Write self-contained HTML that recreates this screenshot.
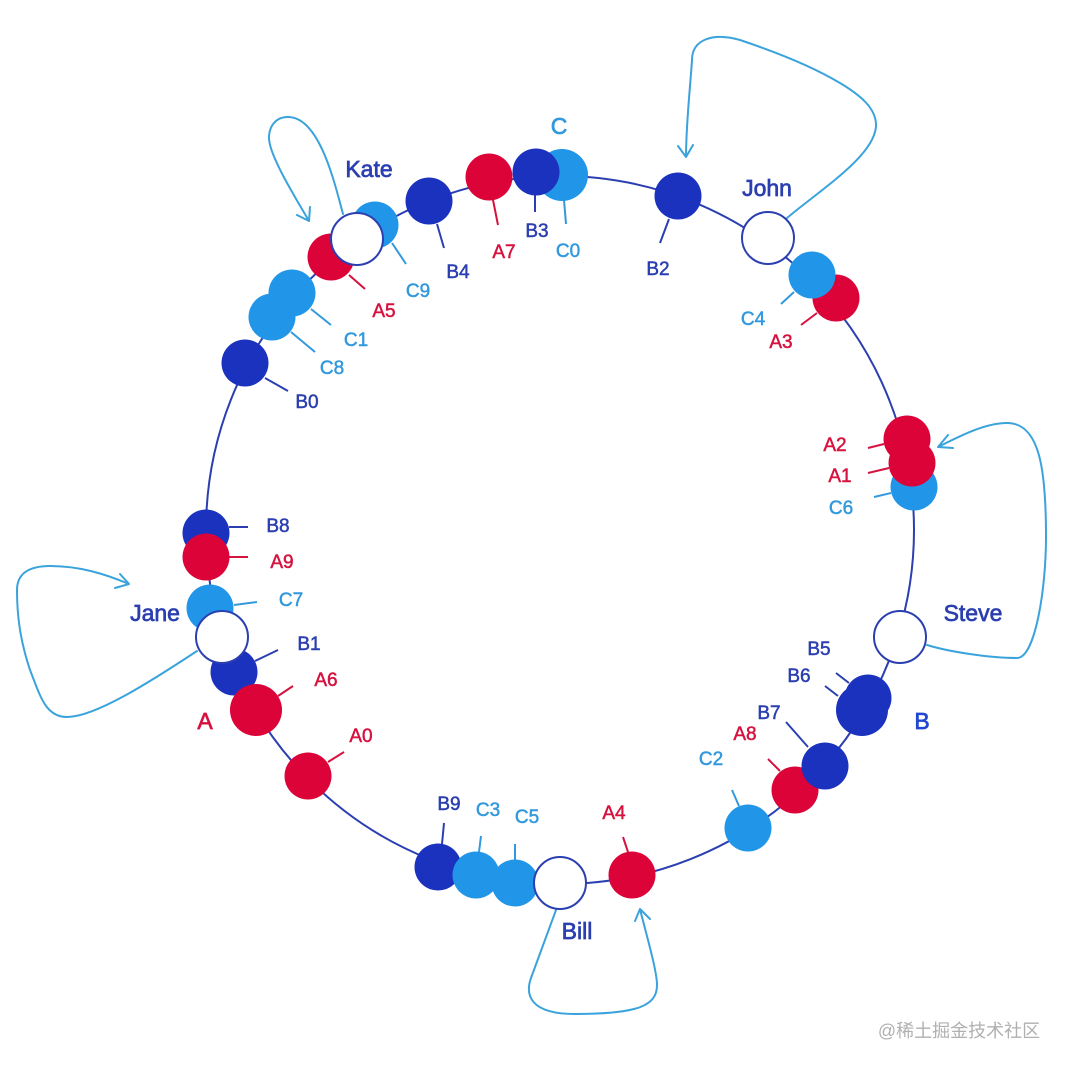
<!DOCTYPE html>
<html><head><meta charset="utf-8">
<style>
html,body{margin:0;padding:0;background:#fff}
svg{display:block}
text{font-family:"Liberation Sans","Noto Sans CJK SC",sans-serif;text-anchor:middle}
.s{font-size:19px;stroke-width:.5px}
.l{font-size:23px;stroke-width:.7px}
.db{fill:#2b3fb0;stroke:#2b3fb0}
.lb{fill:#3399dd;stroke:#3399dd}
.re{fill:#d6123f;stroke:#d6123f}
.tb{stroke:#2b3fb0;stroke-width:2;fill:none}
.tl{stroke:#3399dd;stroke-width:2;fill:none}
.tr{stroke:#d6123f;stroke-width:2;fill:none}
.loop{stroke:#3aa3dc;stroke-width:2;fill:none;stroke-linecap:round;stroke-linejoin:round}
</style></head><body>
<svg width="1066" height="1068" viewBox="0 0 1066 1068" xmlns="http://www.w3.org/2000/svg">
<rect width="1066" height="1068" fill="#fff"/>
<circle cx="560" cy="530" r="354" fill="none" stroke="#2b3fb0" stroke-width="2"/>

<g class="loop">
<path d="M343 214C335 185 320 117 288 117C275 117 269 127 269 138C269 155 295 197 309 221M297 215L309 221L310 207"/>
<path d="M197 651C150 682 95 717 67 717C45 717 40 695 30 670C20 640 17 615 17 590C17 573 30 566 50 566C80 566 105 574 129 584M120 574L129 584L115 588"/>
<path d="M927 645C950 652 990 658 1017 658C1035 658 1046 590 1046 537C1046 470 1040 423 1007 423C985 423 960 436 938 447M948 435L938 447L953 448"/>
<path d="M556 910L531 978C525 995 530 1014 575 1014C640 1014 657 1005 657 985C657 970 645 930 640 909M635 921L640 909L650 919"/>
<path d="M787 218C820 190 876 155 876 125C876 108 860 95 840 83C810 65 770 50 740 40C712 32 692 40 692 60C690 90 686 125 686 157M678 146L686 157L693 145"/>
</g>

<g class="tb">
<path d="M229 527H248M255 661L278 650M265 378L288 391M437 224L444 248M535 195V212M669 219L660 243M849 683L836 673M838 696L825 686M808 747L786 722M442 844L444 823"/>
</g>
<g class="tl">
<path d="M234 605L257 602M291 332L315 352M311 309L331 325M392 243L406 264M564 200L566 224M794 292L781 304M891 493L874 497M739 806L732 790M515 860V844M479 852L481 836"/>
</g>
<g class="tr">
<path d="M229 557H248M278 696L293 686M328 762L344 752M349 275L365 289M493 200L498 225M817 313L801 325M884 444L868 448M889 468L868 473M780 771L768 759M628 852L623 837"/>
</g>

<g fill="#1a32bd">
<circle cx="206" cy="533" r="23.5"/>
<circle cx="234" cy="672" r="23.5"/>
<circle cx="245" cy="363" r="23.5"/>
<circle cx="429" cy="201" r="23.5"/>
<circle cx="678" cy="196" r="23.5"/>
<circle cx="868" cy="698" r="23.5"/>
<circle cx="862" cy="710" r="26"/>
<circle cx="438" cy="867" r="23.5"/>
</g>
<g fill="#2196e8">
<circle cx="210" cy="608" r="23.5"/>
<circle cx="292" cy="293" r="23.5"/>
<circle cx="272" cy="317" r="23.5"/>
<circle cx="375" cy="225" r="23.5"/>
<circle cx="562" cy="175" r="26"/>
<circle cx="914" cy="487" r="23.5"/>
<circle cx="748" cy="828" r="23.5"/>
<circle cx="476" cy="875" r="23.5"/>
<circle cx="515" cy="883" r="23.5"/>
</g>
<g fill="#dc0339">
<circle cx="206" cy="557" r="23.5"/>
<circle cx="256" cy="710" r="26"/>
<circle cx="308" cy="776" r="23.5"/>
<circle cx="331" cy="257" r="23.5"/>
<circle cx="489" cy="177" r="23.5"/>
<circle cx="836" cy="298" r="23.5"/>
<circle cx="907" cy="439" r="23.5"/>
<circle cx="912" cy="463" r="23.5"/>
<circle cx="795" cy="790" r="23.5"/>
<circle cx="632" cy="875" r="23.5"/>
</g>
<circle cx="536" cy="172" r="23.5" fill="#1a32bd"/>
<circle cx="825" cy="766" r="23.5" fill="#1a32bd"/>
<circle cx="812" cy="275" r="23.5" fill="#2196e8"/>

<g fill="#fff" stroke="#2b3fb0" stroke-width="2">
<circle cx="357" cy="239" r="26"/>
<circle cx="768" cy="238" r="26"/>
<circle cx="900" cy="637" r="26"/>
<circle cx="560" cy="883" r="26"/>
<circle cx="222" cy="637" r="26"/>
</g>

<g class="s db">
<text x="278" y="532">B8</text>
<text x="309" y="650">B1</text>
<text x="307" y="408">B0</text>
<text x="458" y="278">B4</text>
<text x="537" y="237">B3</text>
<text x="658" y="275">B2</text>
<text x="819" y="655">B5</text>
<text x="799" y="682">B6</text>
<text x="769" y="719">B7</text>
<text x="449" y="810">B9</text>
</g>
<g class="s lb">
<text x="291" y="606">C7</text>
<text x="332" y="374">C8</text>
<text x="356" y="346">C1</text>
<text x="418" y="297">C9</text>
<text x="568" y="257">C0</text>
<text x="753" y="325">C4</text>
<text x="841" y="514">C6</text>
<text x="711" y="765">C2</text>
<text x="527" y="823">C5</text>
<text x="488" y="816">C3</text>
</g>
<g class="s re">
<text x="282" y="568">A9</text>
<text x="326" y="686">A6</text>
<text x="361" y="742">A0</text>
<text x="384" y="317">A5</text>
<text x="504" y="258">A7</text>
<text x="781" y="348">A3</text>
<text x="835" y="451">A2</text>
<text x="840" y="482">A1</text>
<text x="745" y="740">A8</text>
<text x="614" y="819">A4</text>
</g>
<g class="l db">
<text x="369" y="177">Kate</text>
<text x="767" y="196">John</text>
<text x="973" y="621">Steve</text>
<text x="577" y="939">Bill</text>
<text x="155" y="621">Jane</text>
</g>
<text class="l" x="922" y="729" fill="#2347d0" stroke="#2347d0">B</text>
<text class="l" x="205" y="729" fill="#d6123f" stroke="#d6123f">A</text>
<text class="l" x="559" y="134" fill="#3399dd" stroke="#3399dd">C</text>
<text x="959" y="1037" font-size="18" fill="#b0b0b0">@稀土掘金技术社区</text>
</svg>
</body></html>
